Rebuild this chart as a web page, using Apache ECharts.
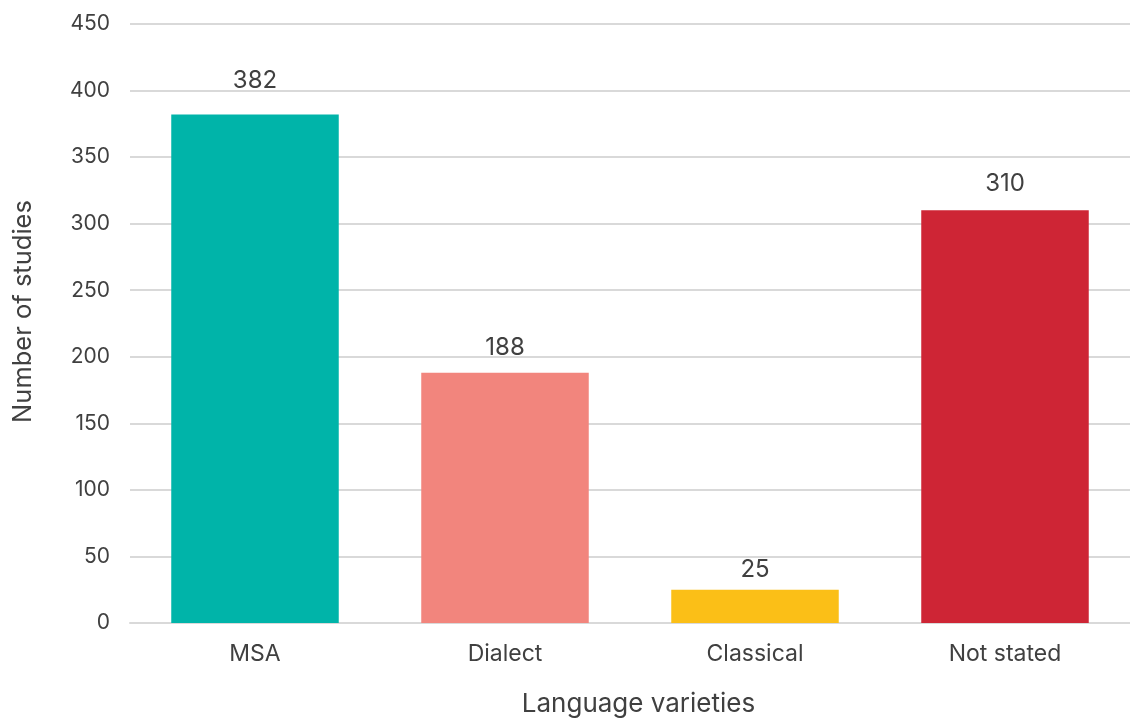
<!DOCTYPE html>
<html>
<head>
<meta charset="utf-8">
<script src="https://cdn.jsdelivr.net/npm/echarts@6/dist/echarts.min.js"></script>
<style>
  html, body { margin: 0; padding: 0; background: #fff; overflow: hidden; }
  #chart { width: 1130px; height: 722px; }
</style>
</head>
<body>
<div id="chart"></div>
<script>
// Language varieties studied and how many studies used each
const categories = ['MSA', 'Dialect', 'Classical', 'Not stated'];
const studyCounts = [382, 188, 25, 310];
const barColors = ['#00B4A9', '#F2857D', '#FBBF17', '#CE2535'];
const yTicks = { min: 0, max: 450, interval: 50 };
// gap between each bar top and its value label (px)
const labelGaps = [22, 13, 8, 15];

const textColor = '#404040';
const fontFamily = 'Inter, "Liberation Sans", Arial, sans-serif';

const chart = echarts.init(document.getElementById('chart'));
chart.setOption({
  animation: false,
  textStyle: { fontFamily: fontFamily, color: textColor },
  // plot runs slightly past the right edge so the gridlines bleed off the canvas
  grid: { left: 130, width: 1008, top: 24, height: 602 },
  xAxis: {
    type: 'category',
    data: categories,
    name: 'Language varieties',
    nameLocation: 'middle',
    nameGap: 68,
    nameTextStyle: { fontSize: 26, color: textColor, padding: [0, 0, 0, 17] },
    axisLine: { lineStyle: { color: '#d9d9d9', width: 2 } },
    axisTick: { show: false },
    axisLabel: { fontSize: 23, color: textColor, margin: 20 }
  },
  yAxis: {
    type: 'value',
    min: yTicks.min,
    max: yTicks.max,
    interval: yTicks.interval,
    name: 'Number of studies',
    nameLocation: 'middle',
    nameGap: 94,
    nameTextStyle: { fontSize: 25.5, color: textColor, padding: [0, 0, 0, 24] },
    axisLine: { show: false },
    axisTick: { show: false },
    axisLabel: { fontSize: 21, color: textColor, margin: 20 },
    splitLine: { lineStyle: { color: '#d9d9d9', width: 2 } }
  },
  series: [{
    type: 'bar',
    barCategoryGap: '33%',
    data: studyCounts.map((v, i) => ({
      value: v,
      itemStyle: { color: barColors[i] },
      label: { distance: labelGaps[i] }
    })),
    label: {
      show: true,
      position: 'top',
      fontSize: 24,
      color: textColor
    }
  }]
});
</script>
</body>
</html>
